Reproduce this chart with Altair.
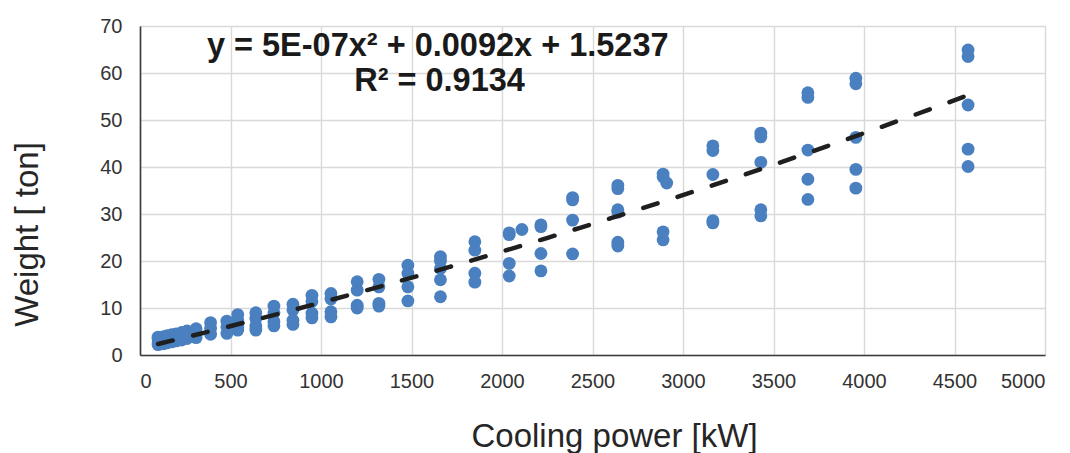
import altair as alt
import pandas as pd

# Cooling power columns [kW] and the weights [ton] measured at each
cooling_kw = [100, 130, 150, 175, 200, 230, 260, 310, 390, 480, 540, 640, 740, 845,
              950, 1055, 1200, 1320, 1480, 1660, 1850, 2040, 2110, 2215, 2390, 2640,
              2890, 2910, 3165, 3430, 3690, 3955, 4575]
weights = [
    [3.8, 3.4, 2.6, 2.2],
    [3.9, 3.1, 2.4],
    [4.1, 3.3, 2.6],
    [4.3, 3.5, 2.8],
    [4.5, 3.7, 3.0],
    [4.8, 4.0, 3.2],
    [5.1, 4.3, 3.5],
    [5.6, 4.5, 3.7],
    [6.9, 5.7, 4.4],
    [7.2, 6.0, 4.6],
    [8.6, 7.4, 6.0, 5.3],
    [9.0, 7.8, 6.2, 5.3],
    [10.4, 9.0, 7.1, 6.2],
    [10.8, 9.6, 7.4, 6.5],
    [12.7, 11.4, 8.9, 7.9],
    [13.1, 11.9, 9.2, 8.1],
    [15.6, 13.8, 10.6, 10.0],
    [16.1, 14.5, 11.0, 10.4],
    [19.1, 17.4, 14.5, 11.5],
    [20.9, 20.0, 18.4, 16.0, 12.4],
    [24.1, 22.3, 17.4, 15.5],
    [26.0, 25.6, 19.5, 16.8],
    [26.7],
    [27.7, 27.3, 21.6, 17.9],
    [33.5, 33.0, 28.7, 21.5],
    [36.1, 35.4, 30.9, 30.4, 24.0, 23.2],
    [38.5, 37.9, 26.2, 24.5],
    [36.6],
    [44.5, 43.5, 38.4, 28.6, 28.1],
    [47.2, 46.4, 41.0, 30.9, 29.6],
    [55.8, 54.8, 43.6, 37.4, 33.1],
    [58.9, 57.7, 46.3, 39.5, 35.5],
    [64.9, 63.5, 53.2, 43.8, 40.1],
]

x_ticks = [0, 500, 1000, 1500, 2000, 2500, 3000, 3500, 4000, 4500, 5000]
y_ticks = [0, 10, 20, 30, 40, 50, 60, 70]

equation_lines = ["y = 5E-07x\u00b2 + 0.0092x + 1.5237", "R\u00b2 = 0.9134"]
equation_x = [1645, 1655]
equation_y = [63.6, 56.2]

rows = [{"power": p, "weight": w} for p, ws in zip(cooling_kw, weights) for w in ws]
df = pd.DataFrame(rows)
ann = pd.DataFrame({"label": equation_lines, "px": equation_x, "py": equation_y})

FONT = "Liberation Sans"

x_scale = alt.Scale(domain=[0, 5000], nice=False, zero=False)
y_scale = alt.Scale(domain=[0, 70], nice=False)

x_axis = alt.Axis(
    values=x_ticks, format="d", title="Cooling power [kW]", grid=True, ticks=False, tickSize=0,
    labelPadding=16, labelFontSize=20, labelFont=FONT, labelColor="#333333",
    titleFont=FONT, titleFontSize=33, titleFontWeight="normal", titleColor="#262626",
    titleX=474, titleY=91, titleBaseline="alphabetic", titleAlign="center",
    domainColor="#3a3a3a", domainWidth=1.6, gridColor="#d9d9d9", gridWidth=1.4,
)
y_axis = alt.Axis(
    values=y_ticks, format="d", title="Weight [ ton]", grid=True, ticks=False, tickSize=0,
    labelPadding=18, labelFontSize=20, labelFont=FONT, labelColor="#333333",
    titleFont=FONT, titleFontSize=33, titleFontWeight="normal", titleColor="#262626",
    titleAngle=270, titleX=-103, titleY=208, titleBaseline="alphabetic", titleAlign="center",
    domainColor="#3a3a3a", domainWidth=1.6, gridColor="#d9d9d9", gridWidth=1.4,
)

points = alt.Chart(df).mark_circle(size=165, opacity=1, color="#4a80c0").encode(
    x=alt.X("power:Q", scale=x_scale, axis=x_axis),
    y=alt.Y("weight:Q", scale=y_scale, axis=y_axis),
)

trend = alt.Chart(df).transform_regression(
    "power", "weight", method="poly", order=2
).mark_line(color="#1f1f1f", strokeWidth=4.5, strokeDash=[15, 21], strokeCap="round").encode(
    x=alt.X("power:Q", scale=x_scale),
    y=alt.Y("weight:Q", scale=y_scale),
)

text = alt.Chart(ann).mark_text(
    font=FONT, fontSize=32.5, fontWeight="bold", color="#1a1a1a",
    align="center", baseline="alphabetic",
).encode(
    x=alt.X("px:Q", scale=x_scale),
    y=alt.Y("py:Q", scale=y_scale),
    text="label:N",
)

chart = alt.layer(points, trend, text).properties(
    width=905, height=329,
    padding={"left": 140, "top": 26, "right": 25, "bottom": 98},
    autosize=alt.AutoSizeParams(type="none"),
).configure_view(stroke=None).configure(background="white")

chart.save("out.html", embed_options={"renderer": "svg", "actions": False})
